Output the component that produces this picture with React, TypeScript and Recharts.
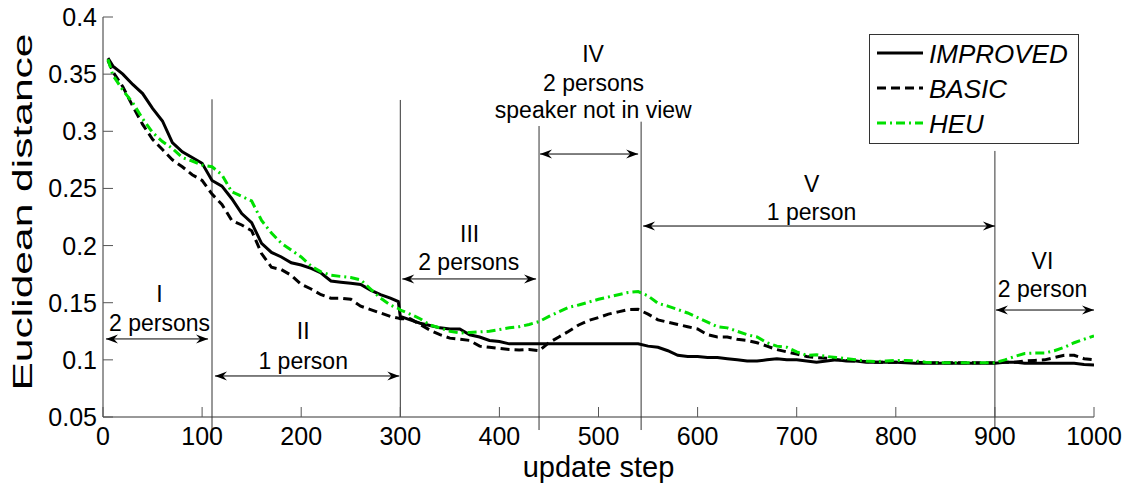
import React from 'react';
import { LineChart, Line, XAxis, YAxis, ReferenceLine, ReferenceDot, Customized } from 'recharts';

// ---------------- data ----------------
const steps = [
  5, 10, 20, 30, 40, 50, 60, 70, 80, 90,
  100, 110, 120, 130, 140, 150, 160, 170, 180, 190,
  200, 210, 220, 230, 240, 250, 260, 270, 280, 290,
  298,
  300, 310, 320, 330, 340, 350, 360, 370, 380, 390,
  400, 410, 420, 430, 440, 450, 460, 470, 480, 490,
  500, 510, 520, 530, 540, 550, 560, 570, 580, 590,
  600, 610, 620, 630, 640, 650, 660, 670, 680, 690,
  700, 710, 720, 730, 740, 750, 760, 770, 780, 790,
  800, 810, 820, 830, 840, 850, 860, 870, 880, 890,
  900, 910, 920, 930, 940, 950, 960, 970, 980, 990,
  1000,
];

const improved = [
  0.364, 0.357, 0.350, 0.341, 0.333, 0.320, 0.309, 0.290, 0.282, 0.277,
  0.272, 0.257, 0.252, 0.241, 0.228, 0.220, 0.202, 0.194, 0.190, 0.185,
  0.183, 0.180, 0.176, 0.169, 0.168, 0.167, 0.166, 0.161, 0.157, 0.154,
  0.151,
  0.138, 0.135, 0.132, 0.130, 0.128, 0.127, 0.127, 0.122, 0.120, 0.117,
  0.116, 0.114, 0.114, 0.114, 0.114, 0.114, 0.114, 0.114, 0.114, 0.114,
  0.114, 0.114, 0.114, 0.114, 0.114, 0.112, 0.111, 0.108, 0.104, 0.103,
  0.103, 0.102, 0.102, 0.101, 0.100, 0.099, 0.099, 0.100, 0.101, 0.100,
  0.100, 0.099, 0.098, 0.099, 0.100, 0.099, 0.099, 0.098, 0.098, 0.098,
  0.098, 0.0975, 0.097, 0.097, 0.097, 0.097, 0.097, 0.097, 0.097, 0.097,
  0.097, 0.098, 0.098, 0.097, 0.097, 0.097, 0.097, 0.097, 0.097, 0.096,
  0.0955,
];

const basic = [
  0.362, 0.352, 0.339, 0.322, 0.306, 0.293, 0.284, 0.275, 0.269, 0.262,
  0.257, 0.245, 0.236, 0.222, 0.218, 0.213, 0.193, 0.181, 0.179, 0.174,
  0.166, 0.162, 0.157, 0.154, 0.154, 0.153, 0.147, 0.144, 0.141, 0.138,
  0.1365,
  0.136, 0.136, 0.131, 0.126, 0.122, 0.119, 0.118, 0.117, 0.112, 0.111,
  0.110, 0.109, 0.1086, 0.109, 0.108, 0.115, 0.120, 0.125, 0.1305, 0.1345,
  0.137, 0.140, 0.142, 0.144, 0.1442, 0.140, 0.135, 0.133, 0.131, 0.129,
  0.127, 0.122, 0.120, 0.120, 0.118, 0.117, 0.115, 0.112, 0.109, 0.107,
  0.105, 0.103, 0.102, 0.1015, 0.100, 0.0995, 0.099, 0.0985, 0.098, 0.098,
  0.098, 0.098, 0.098, 0.0975, 0.0975, 0.0975, 0.0975, 0.0975, 0.0975, 0.0975,
  0.0975, 0.098, 0.098, 0.099, 0.0995, 0.100, 0.102, 0.104, 0.104, 0.101,
  0.100,
];

const heu = [
  0.363, 0.349, 0.336, 0.325, 0.311, 0.299, 0.291, 0.285, 0.277, 0.274,
  0.2705, 0.269, 0.262, 0.247, 0.243, 0.239, 0.222, 0.211, 0.202, 0.196,
  0.190, 0.182, 0.177, 0.174, 0.173, 0.172, 0.170, 0.162, 0.154, 0.148,
  0.145,
  0.1436, 0.140, 0.136, 0.1305, 0.128, 0.125, 0.1235, 0.124, 0.1245, 0.125,
  0.1265, 0.128, 0.129, 0.131, 0.1335, 0.138, 0.142, 0.146, 0.148, 0.1505,
  0.153, 0.155, 0.157, 0.159, 0.1597, 0.156, 0.1495, 0.147, 0.144, 0.141,
  0.137, 0.133, 0.129, 0.128, 0.125, 0.122, 0.120, 0.115, 0.112, 0.111,
  0.107, 0.104, 0.1045, 0.103, 0.102, 0.101, 0.100, 0.099, 0.0985, 0.099,
  0.0995, 0.0995, 0.099, 0.098, 0.0975, 0.0975, 0.0975, 0.0975, 0.0975, 0.0975,
  0.0975, 0.100, 0.103, 0.1055, 0.106, 0.106, 0.108, 0.111, 0.115, 0.118,
  0.121,
];

const xTicks = [0, 100, 200, 300, 400, 500, 600, 700, 800, 900, 1000];
const yTicks = [0.05, 0.1, 0.15, 0.2, 0.25, 0.3, 0.35, 0.4];

// phase separators (step, top value, bottom value)
const separators = [
  { x: 110, top: 0.328, bottom: 0.028 },
  { x: 300, top: 0.3274, bottom: 0.05 },
  { x: 440, top: 0.3046, bottom: 0.0386 },
  { x: 543, top: 0.3084, bottom: 0.0386 },
  { x: 900, top: 0.2828, bottom: 0.0412 },
];

// double-headed arrows (from step, to step, value)
const regionArrows = [
  { from: 3, to: 106, y: 0.1183 },
  { from: 113, to: 299, y: 0.0859 },
  { from: 302, to: 437, y: 0.1708 },
  { from: 441, to: 540, y: 0.2801 },
  { from: 545, to: 900, y: 0.2171 },
  { from: 901, to: 1000, y: 0.1436 },
];

// region labels (centre step, baseline value, text)
const regionLabels = [
  { x: 57, y: 0.1506, text: 'I' },
  { x: 57, y: 0.1253, text: '2 persons' },
  { x: 202, y: 0.1183, text: 'II' },
  { x: 202, y: 0.092, text: '1 person' },
  { x: 370, y: 0.2034, text: 'III' },
  { x: 369, y: 0.1786, text: '2 persons' },
  { x: 494.5, y: 0.3609, text: 'IV' },
  { x: 495, y: 0.3355, text: '2 persons' },
  { x: 494.7, y: 0.3114, text: 'speaker not in view' },
  { x: 715, y: 0.2471, text: 'V' },
  { x: 715, y: 0.2224, text: '1 person' },
  { x: 948, y: 0.1796, text: 'VI' },
  { x: 948, y: 0.1553, text: '2 person' },
];

const data = steps.map((s, i) => ({ step: s, improved: improved[i], basic: basic[i], heu: heu[i] }));

// ---------------- styles ----------------
const FONT = '"Liberation Sans", Arial, Helvetica, sans-serif';
const AX = '#333';
const TICK = '#555';
const GREEN = '#00e000';
const BASIC_DASH = '9 5';
const HEU_DASH = '9 4 2 4';

const fmt = (v: number) => String(+Number(v).toFixed(2));

const XTick = (p: any) => (
  <g>
    <line x1={p.x} y1={p.y} x2={p.x} y2={p.y - 10} stroke={TICK} strokeWidth={1} />
    <text x={p.x} y={p.y + 28} textAnchor="middle" fontSize={25} fontFamily={FONT} fill="#000">
      {p.payload.value}
    </text>
  </g>
);
const TopTick = (p: any) => (
  <line x1={p.x} y1={p.y} x2={p.x} y2={p.y + 10} stroke={TICK} strokeWidth={1} />
);
const YTickL = (p: any) => (
  <g>
    <line x1={p.x} y1={p.y} x2={p.x + 10} y2={p.y} stroke={TICK} strokeWidth={1} />
    <text x={p.x - 6} y={p.y + 9} textAnchor="end" fontSize={25} fontFamily={FONT} fill="#000">
      {fmt(p.payload.value)}
    </text>
  </g>
);
const RightTick = (p: any) => (
  <line x1={p.x} y1={p.y} x2={p.x - 10} y2={p.y} stroke={TICK} strokeWidth={1} />
);

const arrowShape = (p: any) => {
  const { x1, y1, x2 } = p;
  const L = 12;
  const H = 4.5;
  const N = 8;
  const left = Math.min(x1, x2);
  const right = Math.max(x1, x2);
  const y = y1;
  return (
    <g>
      <line x1={left} y1={y} x2={right} y2={y} stroke="#000" strokeWidth={1} />
      <polygon points={`${left},${y} ${left + L},${y - H} ${left + N},${y} ${left + L},${y + H}`} fill="#000" />
      <polygon points={`${right},${y} ${right - L},${y - H} ${right - N},${y} ${right - L},${y + H}`} fill="#000" />
    </g>
  );
};

const labelShape = (text: string) => (p: any) => (
  <text x={p.cx} y={p.cy} textAnchor="middle" fontSize={23} fontFamily={FONT} fill="#000">
    {text}
  </text>
);

const Decorations = () => (
  <g>
    {/* axis titles */}
    <text x={598.5} y={477} textAnchor="middle" fontSize={29} fontFamily={FONT} fill="#000">
      update step
    </text>
    <text
      x={32}
      y={212}
      transform="rotate(-90 32 212)"
      textAnchor="middle"
      fontSize={27}
      fontFamily={FONT}
      fill="#000"
      textLength={357}
      lengthAdjust="spacingAndGlyphs"
    >
      Euclidean distance
    </text>
    {/* legend */}
    <rect x={869.5} y={34.5} width={209} height={109} fill="#fff" stroke={AX} strokeWidth={1} />
    <line x1={877} y1={53} x2={923} y2={53} stroke="#000" strokeWidth={3} />
    <line x1={877} y1={88} x2={923} y2={88} stroke="#000" strokeWidth={3} strokeDasharray={BASIC_DASH} />
    <line x1={877} y1={123} x2={923} y2={123} stroke={GREEN} strokeWidth={3} strokeDasharray={HEU_DASH} />
    <text x={929} y={63} fontSize={26} fontStyle="italic" fontFamily={FONT} fill="#000">IMPROVED</text>
    <text x={929} y={98} fontSize={26} fontStyle="italic" fontFamily={FONT} fill="#000">BASIC</text>
    <text x={929} y={133} fontSize={26} fontStyle="italic" fontFamily={FONT} fill="#000">HEU</text>
  </g>
);

export default function App() {
  return (
    <div style={{ position: 'absolute', left: 0, top: 0, width: 1128, height: 487, background: '#fff' }}>
      <LineChart width={1128} height={487} data={data} margin={{ top: 17, right: 34, bottom: 0, left: 0 }}>
        <XAxis
          xAxisId="b"
          dataKey="step"
          type="number"
          domain={[0, 1000]}
          ticks={xTicks}
          interval={0}
          height={70}
          tickSize={0}
          tickMargin={0}
          tickLine={false}
          axisLine={{ stroke: AX, strokeWidth: 1 }}
          tick={XTick}
          allowDataOverflow
        />
        <XAxis
          xAxisId="t"
          orientation="top"
          dataKey="step"
          type="number"
          domain={[0, 1000]}
          ticks={xTicks}
          interval={0}
          height={0}
          tickSize={0}
          tickMargin={0}
          tickLine={false}
          axisLine={{ stroke: AX, strokeWidth: 1 }}
          tick={TopTick}
          allowDataOverflow
        />
        <YAxis
          yAxisId="l"
          type="number"
          domain={[0.05, 0.4]}
          ticks={yTicks}
          interval={0}
          width={103}
          tickSize={0}
          tickMargin={0}
          tickLine={false}
          axisLine={{ stroke: AX, strokeWidth: 1 }}
          tick={YTickL}
          allowDataOverflow
        />
        <YAxis
          yAxisId="r"
          orientation="right"
          type="number"
          domain={[0.05, 0.4]}
          ticks={yTicks}
          interval={0}
          width={0}
          tickSize={0}
          tickMargin={0}
          tickLine={false}
          axisLine={{ stroke: AX, strokeWidth: 1 }}
          tick={RightTick}
          allowDataOverflow
        />

        {separators.map((s, i) => (
          <ReferenceLine
            key={'sep' + i}
            xAxisId="b"
            yAxisId="l"
            segment={[{ x: s.x, y: s.top }, { x: s.x, y: s.bottom }]}
            stroke="#333"
            strokeWidth={1}
            ifOverflow="visible"
          />
        ))}

        <Line xAxisId="b" yAxisId="l" dataKey="improved" type="linear" stroke="#000" strokeWidth={3}
          dot={false} activeDot={false} isAnimationActive={false} />
        <Line xAxisId="b" yAxisId="l" dataKey="basic" type="linear" stroke="#000" strokeWidth={3}
          strokeDasharray={BASIC_DASH} dot={false} activeDot={false} isAnimationActive={false} />
        <Line xAxisId="b" yAxisId="l" dataKey="heu" type="linear" stroke={GREEN} strokeWidth={3}
          strokeDasharray={HEU_DASH} dot={false} activeDot={false} isAnimationActive={false} />

        {regionArrows.map((a, i) => (
          <ReferenceLine
            key={'arr' + i}
            xAxisId="b"
            yAxisId="l"
            segment={[{ x: a.from, y: a.y }, { x: a.to, y: a.y }]}
            ifOverflow="visible"
            shape={arrowShape}
          />
        ))}

        {regionLabels.map((l, i) => (
          <ReferenceDot
            key={'lab' + i}
            xAxisId="b"
            yAxisId="l"
            x={l.x}
            y={l.y}
            r={0}
            ifOverflow="visible"
            shape={labelShape(l.text)}
          />
        ))}

        <Customized component={Decorations} />
      </LineChart>
    </div>
  );
}
